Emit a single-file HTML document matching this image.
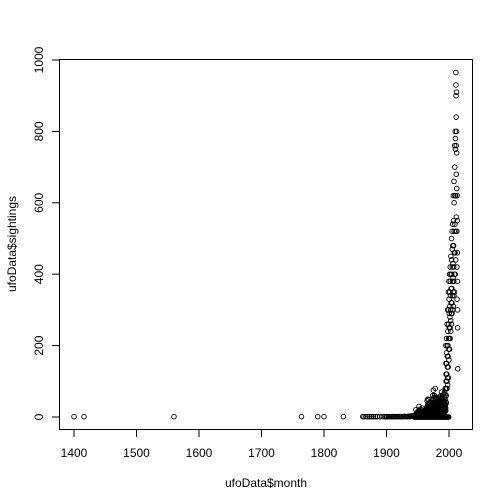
<!DOCTYPE html>
<html><head><meta charset="utf-8"><style>
html,body{margin:0;padding:0;background:#fff;}
svg{display:block;font-family:"Liberation Sans",Arial,sans-serif;}
</style></head><body>
<svg id="chart" width="504" height="504" viewBox="0 0 504 504">
<rect x="59.5" y="59.5" width="413" height="370" fill="none" stroke="#000" stroke-width="1"/>
<g id="axes"></g>
<g id="points"></g>
<text x="266" y="487" font-size="12" text-anchor="middle">ufoData$month</text>
<text x="16" y="244" font-size="12" text-anchor="middle" transform="rotate(-90 16 244)">ufoData$sightings</text>
</svg>
<script>
const xTicks = [1400, 1500, 1600, 1700, 1800, 1900, 2000];
const yTicks = [0, 200, 400, 600, 800, 1000];
const earlyMonths = [1400,1416,1560,1764,1790,1800,1831,1862,1864,1867,1870,1873,1876,1879,1882,1885,1889,1893,1897,1899,1901,1903,1905,1907,1909,1911,1913,1915,1917,1919,1921,1923,1925,1927,1929,1931,1933,1935,1937,1939,1941,1943];
const earlySightings = [1,1,1,1,1,1,1,1,1,1,1,1,1,1,1,1,1,1,1,1,1,1,1,1,1,1,1,1,1,1,1,1,1,1,2,1,1,2,1,3,2,4];
const cloudYears = [1945,1946,1947,1948,1949,1950,1951,1952,1953,1954,1955,1956,1957,1958,1959,1960,1961,1962,1963,1964,1965,1966,1967,1968,1969,1970,1971,1972,1973,1974,1975,1976,1977,1978,1979,1980,1981,1982,1983,1984,1985,1986,1987,1988,1989,1990,1991,1992,1993,1994,1995,1996,1997,1998,1999,2000,2001,2002,2003,2004,2005,2006,2007,2008,2009,2010,2011,2012,2013,2014];
const cloudSightings = [
[0,2,5,1],[3,1,6,2],[20,8,4,2,1],[3,5,10,2],[6,12,4,3],[15,8,5,3,10],[6,10,4,2],[30,20,12,8,5,3],
[12,8,6,4],[18,10,7,5,3],[14,9,6,4],[20,12,8,5,3],[25,15,10,6,4],[15,10,7,5],[14,9,6,4],[18,12,8,5,3],
[16,10,7,4],[20,14,9,6,3],[18,12,8,5],[25,16,10,6,4],[45,30,20,12,8,5],[50,35,25,15,10,6],[48,30,22,14,9,5],
[40,28,18,12,7,4],[30,20,14,9,6,3],[28,20,14,10,6,4],[25,18,12,8,5,3],[35,22,15,10,6,4],[50,35,25,15,10,6],
[60,40,28,18,12,8],[75,50,35,22,14,9],[55,40,28,18,12,8],[60,42,30,20,13,8],[80,55,38,25,16,10],
[50,36,26,18,12,7],[55,40,28,20,13,8],[40,30,22,15,10,6],[35,28,20,14,9,6],[45,32,24,16,10,6],
[50,38,27,18,12,7],[55,40,30,20,14,9],[45,34,25,18,12,8],[60,45,32,22,15,10],[70,50,36,25,18,12],
[55,42,30,22,15,10],[60,45,34,25,18,12],[50,40,30,22,16,10],[65,50,38,28,20,14],[70,55,40,30,22,15],
[80,62,48,35,25,18],
[200,150,120,100,80,60,40],[220,180,150,120,100,80],[260,200,170,140,110,90],[300,240,200,170,140,110],
[350,300,260,220,190,160],[380,330,290,250,220,190],[400,350,310,280,250,220],[420,380,340,300,270,240],
[450,400,360,320,290,260],[500,440,400,360,320,290],[520,470,420,380,340,300],[540,480,430,390,350,310],
[620,550,480,420,380,340],[660,600,520,460,400,350],[760,700,620,540,460,400],[800,780,750,620,520,440],
[965,930,900,840,760,680,560],[910,800,740,640,520,420,330],[620,550,460,380,300,250],[135]
];

const NS = "http://www.w3.org/2000/svg";
const xScale = v => 74 + (v - 1400) * (375 / 600);
const yScale = v => 417 - v * 0.357;
const axes = document.getElementById('axes');
const pts = document.getElementById('points');
function mk(tag, attrs, parent) {
  const e = document.createElementNS(NS, tag);
  for (const k in attrs) e.setAttribute(k, attrs[k]);
  parent.appendChild(e);
  return e;
}
xTicks.forEach(t => {
  const l = mk('line', {x1: xScale(t), x2: xScale(t), y1: 430, y2: 437, stroke: '#000'}, axes);
  
  
  const tx = mk('text', {x: xScale(t), y: 457, 'font-size': 12, 'text-anchor': 'middle'}, axes);
  tx.textContent = t;
  
  
});
yTicks.forEach(t => {
  const l = mk('line', {x1: 52, x2: 59.5, y1: yScale(t), y2: yScale(t), stroke: '#000'}, axes);
  
  
  const y = yScale(t);
  const tx = mk('text', {x: 43, y: y, 'font-size': 12, 'text-anchor': 'middle', transform: 'rotate(-90 43 ' + y + ')'}, axes);
  tx.textContent = t;
  
  
});
function pt(m, s) {
  const c = mk('circle', {cx: xScale(m), cy: yScale(s), r: 2.3, fill: 'none', stroke: '#000', 'stroke-width': 0.9}, pts);
  
  
}
earlyMonths.forEach((m, i) => pt(m, earlySightings[i]));
cloudYears.forEach((y, i) => {
  const vals = cloudSightings[i];
  vals.forEach((s, j) => pt(y + j / vals.length, s));
  if (y < 2000) pt(y + 0.5, 0);
});
</script>
</body></html>
